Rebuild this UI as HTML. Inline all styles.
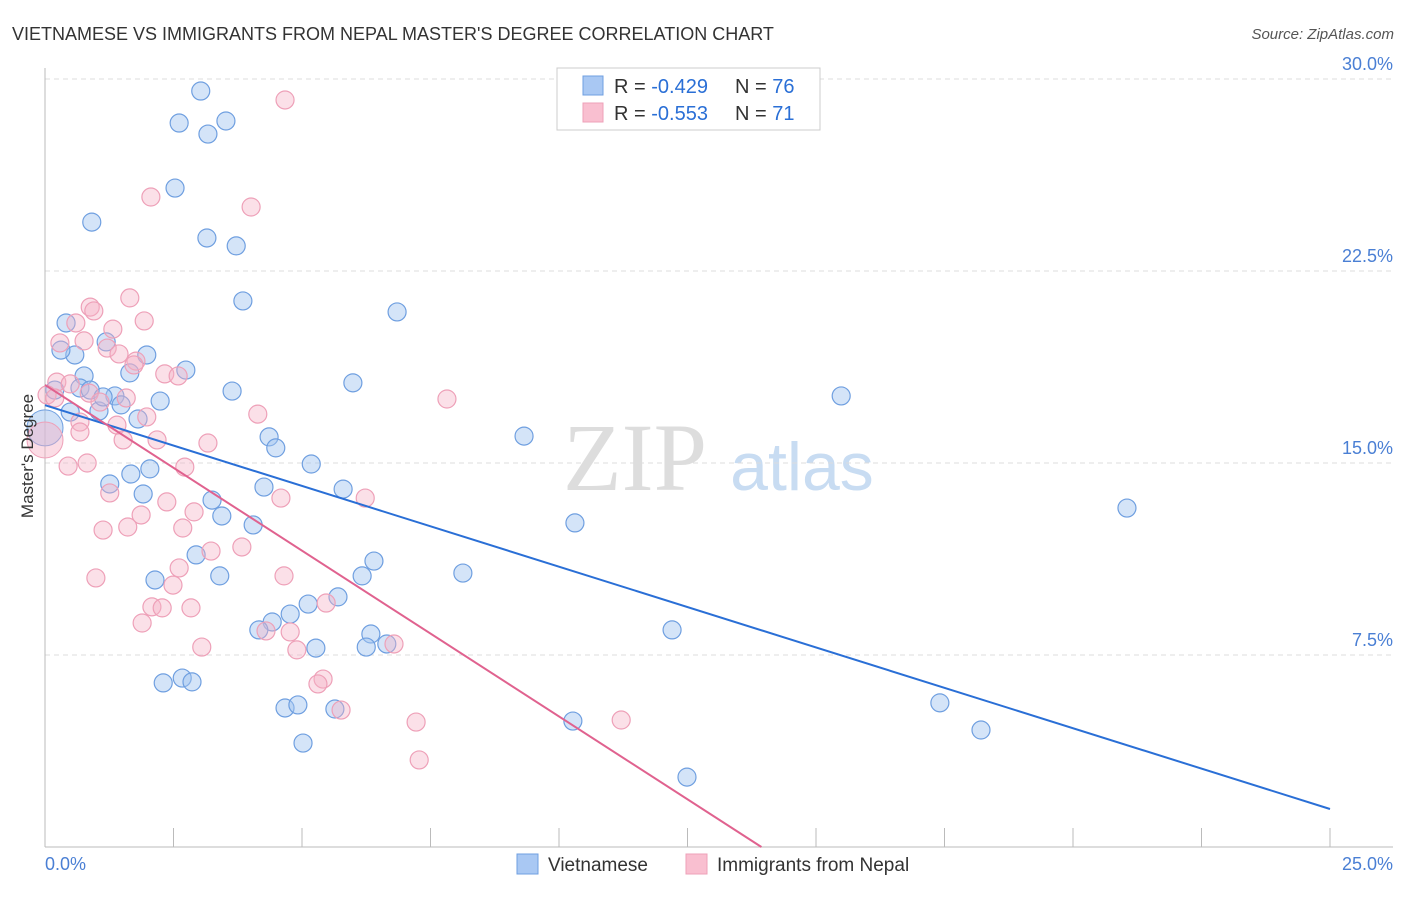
<!DOCTYPE html>
<html><head><meta charset="utf-8"><style>
body{margin:0;background:#fff;font-family:"Liberation Sans",sans-serif}
svg text{font-family:"Liberation Sans",sans-serif}
</style></head><body>
<svg id="chart" width="1406" height="892" viewBox="0 0 1406 892" xmlns="http://www.w3.org/2000/svg">
<text x="12" y="40" font-size="18" fill="#333">VIETNAMESE VS IMMIGRANTS FROM NEPAL MASTER'S DEGREE CORRELATION CHART</text>
<text x="1394" y="39" font-size="15" fill="#555" text-anchor="end" font-style="italic">Source: ZipAtlas.com</text>
<g>
<text x="635" y="490" font-size="96" fill="#ddd" text-anchor="middle" style="font-family:'Liberation Serif',serif">ZIP</text>
<text x="802" y="490" font-size="68" fill="#c8dcf2" text-anchor="middle">atlas</text>
</g>
<g id="grid"></g>
<g id="axes"></g>
<g id="marks"></g>
<g id="trends"></g>
<g>
<rect x="557" y="68" width="263" height="62" fill="#fff" stroke="#ccc"/>
<rect x="583" y="76" width="20" height="19" fill="#a9c8f3" stroke="#6f9fe0"/>
<rect x="583" y="103" width="20" height="19" fill="#f9bfd0" stroke="#eea0b8"/>
<text x="614" y="93" font-size="20" fill="#333">R = <tspan fill="#2a6fd6">-0.429</tspan><tspan x="735">N = </tspan><tspan fill="#2a6fd6">76</tspan></text>
<text x="614" y="120" font-size="20" fill="#333">R = <tspan fill="#2a6fd6">-0.553</tspan><tspan x="735">N = </tspan><tspan fill="#2a6fd6">71</tspan></text>
</g>
<text transform="translate(33,456) rotate(-90)" font-size="17" fill="#333" text-anchor="middle">Master's Degree</text>
<text x="45" y="870" font-size="18" fill="#4a7fd4">0.0%</text>
<text x="1393" y="870" font-size="18" fill="#4a7fd4" text-anchor="end">25.0%</text>
<g>
<rect x="517" y="854" width="21" height="20" fill="#a9c8f3" stroke="#6f9fe0"/>
<text x="548" y="871" font-size="19" fill="#333">Vietnamese</text>
<rect x="686" y="854" width="21" height="20" fill="#f9bfd0" stroke="#eea0b8"/>
<text x="717" y="871" font-size="19" fill="#333">Immigrants from Nepal</text>
</g>
</svg>
<script>
const yTicks=[7.5,15,22.5,30];
const yTickLabels=["7.5%","15.0%","22.5%","30.0%"];
const xTicks=[0,2.5,5,7.5,10,12.5,15,17.5,20,22.5,25];
const blueX=[3.03,2.61,3.17,3.52,2.53,0.91,3.15,3.72,3.85,6.85,0.41,0.58,0.31,1.19,1.98,2.74,1.65,0.76,5.99,15.49,3.64,0.68,0.88,0.19,1.36,2.24,1.05,1.48,0.49,1.13,1.81,4.36,4.49,9.32,5.18,2.04,1.67,1.26,4.26,1.91,3.25,5.80,3.44,10.31,21.05,4.05,2.94,6.40,3.40,6.17,8.13,2.14,5.70,5.12,4.77,4.42,4.16,6.34,6.25,5.27,6.65,12.20,2.30,2.67,2.86,4.67,4.92,5.64,17.41,10.27,18.21,5.02,12.49];
const blueY=[29.53,28.28,27.85,28.36,25.74,24.41,23.79,23.48,21.33,20.90,20.47,19.22,19.41,19.73,19.22,18.63,18.52,18.40,18.13,17.62,17.81,17.93,17.85,17.85,17.62,17.42,17.03,17.27,16.99,17.58,16.72,16.02,15.59,16.05,14.96,14.77,14.57,14.18,14.06,13.79,13.55,13.98,12.93,12.66,13.24,12.58,11.41,11.17,10.59,10.59,10.70,10.43,9.77,9.49,9.10,8.79,8.48,8.32,7.81,7.77,7.93,8.48,6.41,6.60,6.45,5.43,5.55,5.39,5.63,4.92,4.57,4.06,2.73];
const pinkX=[4.67,2.06,4.01,1.65,0.88,0.95,0.60,1.93,1.32,0.29,0.76,1.21,1.44,1.77,1.73,2.33,2.59,7.82,0.23,0.49,0.04,0.19,0.86,1.07,1.58,1.98,4.14,0.68,1.40,0.68,2.18,3.17,1.52,0.45,0.82,2.72,1.26,2.37,4.59,6.23,2.90,1.87,1.13,1.61,2.68,3.83,3.23,0.99,2.61,2.49,4.65,2.08,2.28,2.84,1.89,5.47,4.30,4.77,3.05,4.90,6.79,5.41,5.31,5.76,7.22,11.21,7.28];
const pinkY=[29.18,25.39,25.00,21.45,21.09,20.94,20.47,20.55,20.23,19.69,19.77,19.49,19.26,18.98,18.83,18.48,18.40,17.50,18.16,18.09,17.66,17.54,17.73,17.38,17.54,16.80,16.91,16.60,16.48,16.21,15.90,15.78,15.90,14.88,15.00,14.84,13.83,13.48,13.63,13.63,13.09,12.97,12.38,12.50,12.46,11.72,11.56,10.51,10.90,10.23,10.59,9.38,9.34,9.34,8.75,9.53,8.44,8.40,7.81,7.70,7.93,6.56,6.37,5.35,4.88,4.96,3.40];
const bigBlue=[0,16.37];
const bigPink=[0,15.9];
const blueTrend=[17.26,-0.631];
const pinkTrend=[18.05,-1.295];
const NS="http://www.w3.org/2000/svg";
const X0=45,X1=1330,Y0=847,YSC=25.6;
const sx=v=>X0+(X1-X0)*v/25;
const sy=v=>Y0-v*YSC;
function mk(parent,tag,attrs){const e=document.createElementNS(NS,tag);for(const k in attrs)e.setAttribute(k,attrs[k]);document.getElementById(parent).appendChild(e);return e;}
yTicks.forEach((t,i)=>{
 const l=mk('grid','line',{x1:45,x2:1393,y1:sy(t),y2:sy(t),stroke:'#ddd','stroke-dasharray':'5,4'});
 
 
 const tx=mk('grid','text',{x:1393,y:sy(t)-9,'font-size':18,fill:'#4a7fd4','text-anchor':'end'});
 tx.textContent=yTickLabels[i];
 
 
});
const topGrid=mk('grid','line',{x1:45,x2:1393,y1:79,y2:79,stroke:'#ddd','stroke-dasharray':'5,4'});


const yAxisLine=mk('axes','line',{x1:45,x2:45,y1:68,y2:847,stroke:'#bbb'});


const xAxisLine=mk('axes','line',{x1:45,x2:1393,y1:847,y2:847,stroke:'#bbb'});


xTicks.forEach(t=>{
 const l=mk('axes','line',{x1:sx(t),x2:sx(t),y1:828,y2:847,stroke:'#bbb'});
 
 
});
function dots(xs,ys,fill,stroke,name){
 xs.forEach((v,i)=>{
  const c=mk('marks','circle',{cx:sx(v),cy:sy(ys[i]),r:9,fill:fill,stroke:stroke,'stroke-width':1.2});
  
  
 });
}
const bigB=mk('marks','circle',{cx:sx(bigBlue[0]),cy:sy(bigBlue[1]),r:18,fill:'rgba(160,196,240,0.5)',stroke:'#6f9fe0'});


const bigP=mk('marks','circle',{cx:sx(bigPink[0]),cy:sy(bigPink[1]),r:18,fill:'rgba(246,178,198,0.45)',stroke:'#eea0b8'});


dots(blueX,blueY,'rgba(160,196,240,0.45)','#6f9fe0','vietnamese-point');
dots(pinkX,pinkY,'rgba(246,178,198,0.4)','#eea0b8','nepal-point');
const blueLine=mk('trends','line',{x1:sx(0),y1:sy(blueTrend[0]),x2:sx(25),y2:sy(blueTrend[0]+blueTrend[1]*25),stroke:'#2a6fd6','stroke-width':2});


const pEnd=-pinkTrend[0]/pinkTrend[1];
const pinkLine=mk('trends','line',{x1:sx(0),y1:sy(pinkTrend[0]),x2:sx(pEnd),y2:sy(0),stroke:'#e0628f','stroke-width':2});


</script>
</body></html>
